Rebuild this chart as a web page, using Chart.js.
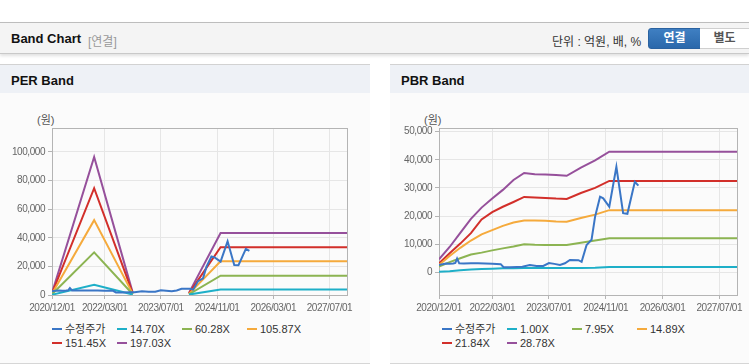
<!DOCTYPE html>
<html>
<head>
<meta charset="utf-8">
<script src="https://cdn.jsdelivr.net/npm/chart.js@4.4.1/dist/chart.umd.min.js"></script>
<style>
body { margin: 0; width: 749px; height: 364px; overflow: hidden; background: #fff; position: relative;
  font-family: 'Liberation Sans', Arial, 'Noto Sans CJK KR', sans-serif; }
.topbar { position: absolute; left: 0; top: 22px; width: 749px; height: 30px; background: #f4f4f4;
  border-top: 1px solid #bdbdbd; border-bottom: 1px solid #c9c9c9; box-shadow: 0 2px 3px rgba(0,0,0,.12); }
.topbar .title { position: absolute; left: 11px; top: 8px; font-size: 13px; font-weight: bold; color: #111; }
.topbar .sub { position: absolute; left: 88px; top: 9px; font-size: 12px; color: #999; }
.topbar .unit { position: absolute; left: 552px; top: 9px; font-size: 12px; color: #333; }
.btn { position: absolute; top: 5px; height: 19px; line-height: 19px; text-align: center; font-size: 12px; font-weight: bold; }
.btn.on { left: 648px; width: 51px; background: linear-gradient(#3f7fc2, #2a68ab); color: #fff; border-radius: 3px 0 0 3px; border: 1px solid #2a62a0; }
.btn.off { left: 700px; width: 49px; background: #fff; color: #555; border: 1px solid #cfcfcf; border-left: none; }
.panel { position: absolute; top: 64px; height: 298px; background: #fbfbfb; border-top: 1px solid #d2d2d2; border-bottom: 1px solid #d6d6d6; }
.panel .ph { height: 28px; background: #eef1f6; }
.panel .ph span { position: absolute; left: 11px; top: 8px; font-size: 13px; font-weight: bold; color: #111; }
.unitlbl { position: absolute; top: 111px; font-size: 11px; color: #555; }
canvas { position: absolute; top: 93px; }
.legend { position: absolute; top: 323px; display: grid; grid-template-columns: repeat(4, 65px); row-gap: 1px; font-size: 11px; color: #333; }
.legend div { height: 13px; line-height: 13px; white-space: nowrap; }
.legend i { display: inline-block; width: 10px; height: 2px; vertical-align: middle; margin-right: 3px; position: relative; top: -1px; }
</style>
</head>
<body>
<div class="topbar">
  <span class="title">Band Chart</span><span class="sub">[연결]</span>
  <span class="unit">단위 : 억원, 배, %</span>
  <div class="btn on">연결</div><div class="btn off">별도</div>
</div>
<div class="panel" style="left:0;width:370px"><div class="ph"><span>PER Band</span></div></div>
<div class="panel" style="left:390px;width:359px"><div class="ph"><span>PBR Band</span></div></div>
<div class="unitlbl" style="left:37px">(원)</div>
<div class="unitlbl" style="left:424px">(원)</div>
<canvas id="chart-per" width="370" height="230" style="left:0"></canvas>
<canvas id="chart-pbr" width="359" height="230" style="left:390px"></canvas>
<div class="legend" id="legend-per" style="left:52px"></div>
<div class="legend" id="legend-pbr" style="left:442px"></div>
<script>
// months since 2020/12
xTickPos = [0, 15, 31, 47, 63, 79]
xTickLabels = ['2020/12/01', '2022/03/01', '2023/07/01', '2024/11/01', '2026/03/01', '2027/07/01']

priceX = [0, 1, 2, 3, 4, 4.6, 5.1, 5.7, 7, 9, 11, 13, 15, 17.4, 18.2, 20, 22, 23.5, 25.6, 27.5, 29.4, 31, 32.5, 34.1, 35.5, 36.9, 39.3, 40.2, 41.6, 43, 44, 45.4, 46.3, 48, 50, 51.9, 53.1, 55.2, 56.2]
priceY = [2600, 2900, 3100, 3000, 3100, 3300, 4900, 3200, 3100, 3200, 3200, 3100, 3000, 2900, 1800, 1800, 1900, 2000, 2600, 2250, 2250, 3300, 3000, 2600, 3200, 4400, 4300, 3700, 9700, 11600, 19800, 26900, 26300, 23300, 37500, 21000, 20800, 32200, 30800]

perX = [0, 12, 23, 31, 39, 48, 84]
per1470 = [200, 7200, 300, null, 300, 3800, 3800]
per6028 = [500, 29800, 500, null, 500, 13500, 13500]
per10587 = [800, 52300, 800, null, 800, 23500, 23500]
per15145 = [1100, 74600, 1100, null, 1100, 33400, 33400]
per19703 = [1500, 96500, 1500, null, 1500, 43300, 43300]
perLabels = ['수정주가', '14.70X', '60.28X', '105.87X', '151.45X', '197.03X']
perTicks = [0, 20000, 40000, 60000, 80000, 100000]

pbrX = [0, 3, 6, 9, 12, 15, 18, 21, 24, 27, 30, 33, 36, 40, 44, 48, 84]
pbr100 = [200, 400, 700, 1000, 1200, 1300, 1400, 1450, 1500, 1500, 1500, 1500, 1500, 1550, 1600, 1900, 1900]
pbr795 = [2000, 3600, 5000, 6300, 7000, 7800, 8500, 9200, 10000, 9800, 9700, 9700, 9700, 10500, 11300, 12100, 12100]
pbr1489 = [2600, 5800, 8700, 11300, 13500, 15000, 16500, 17700, 18400, 18400, 18300, 18100, 18000, 19300, 20500, 22100, 22100]
pbr2184 = [3200, 6800, 10200, 13900, 18800, 21400, 23300, 25000, 26800, 26600, 26400, 26200, 26100, 28200, 30000, 32500, 32500]
pbr2878 = [4600, 9000, 14000, 19000, 23000, 26200, 29300, 32800, 35300, 34900, 34800, 34600, 34300, 37200, 39800, 42900, 42900]
pbrLabels = ['수정주가', '1.00X', '7.95X', '14.89X', '21.84X', '28.78X']
pbrTicks = [0, 10000, 20000, 30000, 40000, 50000]

colors = ['#3a76c6', '#1eafc8', '#8cb452', '#f5aa3c', '#d22f2a', '#96509b']

function pts(xs, ys) {
    return xs.map((x, i) => ({ x: x, y: ys[i] }))
}

// box round the plot, and tighter tick text (the original uses a narrow font)
const boxBorder = {
    id: 'boxBorder',
    beforeDraw(chart) {
        chart.ctx.letterSpacing = '-0.45px'
    },
    beforeDatasetsDraw(chart) {
        const a = chart.chartArea, ctx = chart.ctx
        ctx.save()
        ctx.strokeStyle = '#b4b4b4'
        ctx.lineWidth = 1
        ctx.strokeRect(Math.round(a.left) + 0.5, Math.round(a.top) + 0.5, Math.round(a.right - a.left), Math.round(a.bottom - a.top))
        ctx.restore()
    }
}

function makeChart(id, legendId, labels, bandX, bands, yMin, yMax, yTicks, axisW, padRight) {
    let series = [pts(priceX, priceY)].concat(bands.map(b => pts(bandX, b)))
    let tickFont = { family: "'Liberation Sans', Arial", size: 10 }

    let chart = new Chart(document.getElementById(id), {
        type: 'line',
        data: {
            datasets: series.map((d, i) => ({
                label: labels[i],
                data: d,
                borderColor: colors[i],
                backgroundColor: colors[i],
                borderWidth: 2,
                pointRadius: 0,
                tension: 0,
                spanGaps: false
            }))
        },
        options: {
            responsive: false,
            animation: false,
            layout: { padding: { top: 35, right: padRight, left: 0, bottom: 0 } },
            plugins: { legend: { display: false }, tooltip: { enabled: false } },
            scales: {
                x: {
                    type: 'linear', min: 0, max: 84,
                    afterBuildTicks: s => { s.ticks = xTickPos.map(v => ({ value: v })) },
                    afterFit: s => { s.height = 28 },
                    ticks: { callback: (v, i) => xTickLabels[i], font: tickFont, color: '#666', padding: 3, maxRotation: 0, autoSkip: false },
                    grid: { color: '#e6e6e6', tickColor: '#b4b4b4', tickLength: 4 },
                    border: { display: false }
                },
                y: {
                    min: yMin, max: yMax,
                    afterBuildTicks: s => { s.ticks = yTicks.map(v => ({ value: v })) },
                    afterFit: s => { s.width = axisW },
                    ticks: { callback: v => v.toLocaleString('en-US'), font: tickFont, color: '#666', padding: 3 },
                    grid: { color: '#e6e6e6', tickColor: '#b4b4b4', tickLength: 4 },
                    border: { display: false }
                }
            }
        },
        plugins: [boxBorder]
    })

    let legend = document.getElementById(legendId)
    chart.data.datasets.forEach(ds => {
        let item = document.createElement('div')
        item.innerHTML = '<i style="background:' + ds.borderColor + '"></i>' + ds.label
        legend.appendChild(item)
    })
    return chart
}

makeChart('chart-per', 'legend-per', perLabels, perX, [per1470, per6028, per10587, per15145, per19703], 0, 116700, perTicks, 52, 23)
makeChart('chart-pbr', 'legend-pbr', pbrLabels, pbrX, [pbr100, pbr795, pbr1489, pbr2184, pbr2878], -8070, 51300, pbrTicks, 49, 12)
</script>
</body>
</html>
